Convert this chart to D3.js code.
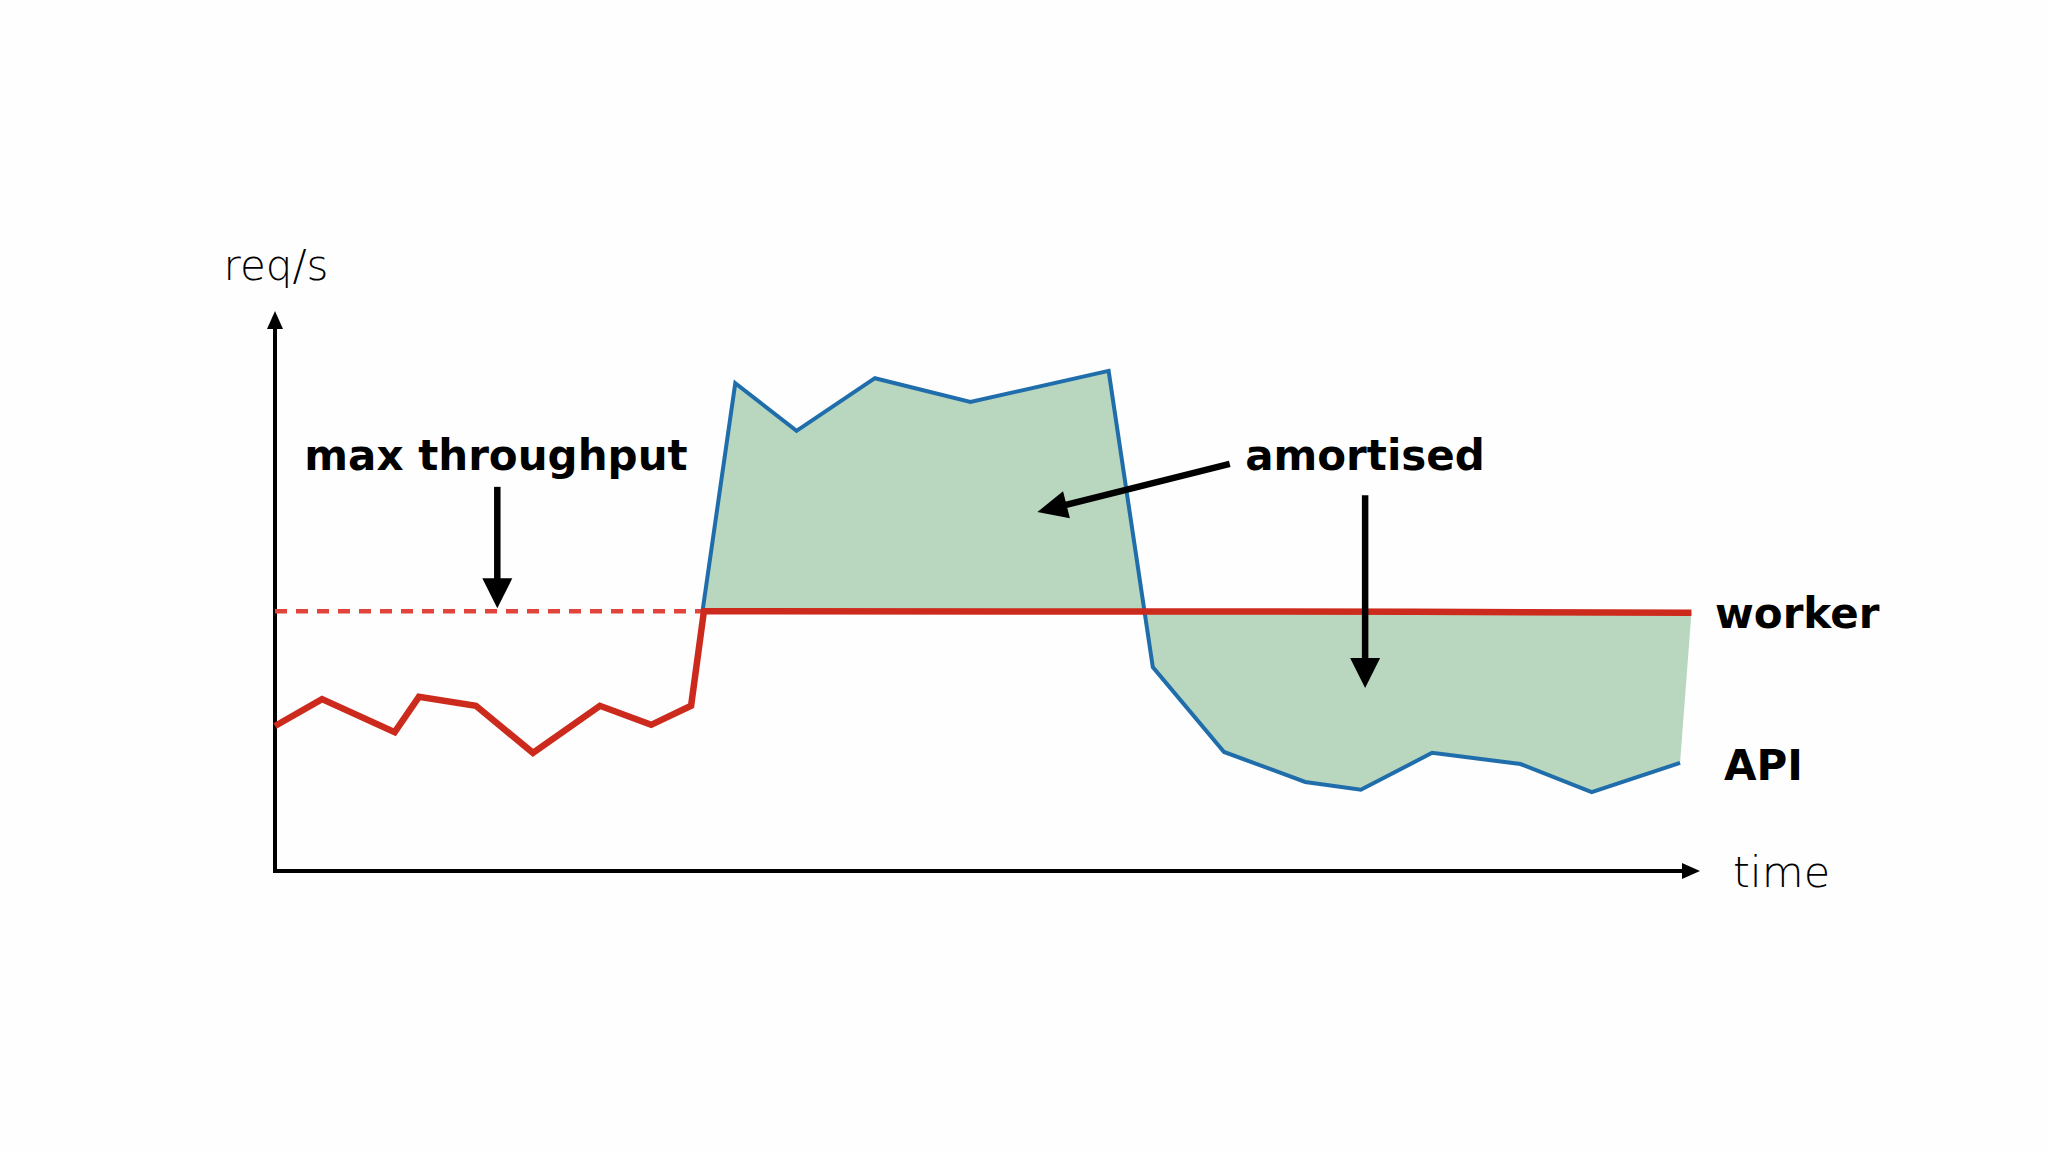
<!DOCTYPE html>
<html>
<head>
<meta charset="utf-8">
<script src="https://cdn.jsdelivr.net/npm/d3@7"></script>
<style>
  body { margin: 0; background: #fefefe; }
  svg { display: block; }
</style>
</head>
<body>
<div id="chart"></div>
<script>
// worker: actual processed req/s (red), flattens at max throughput
var workerTime = [0, 3.3, 8.4, 10.1, 14.1, 18.1, 22.8, 26.4, 29.2, 30.1, 80, 99.4];
var workerRps  = [25.9, 30.7, 24.8, 31.1, 29.5, 21.1, 29.5, 26.1, 29.5, 46.4, 46.3, 46.1];

// API: incoming req/s (blue), only drawn once it exceeds the worker
var apiTime = [30.0, 32.3, 36.6, 42.1, 48.8, 58.5, 61.6, 66.6, 72.3, 76.2, 81.2, 87.4, 92.4, 98.6];
var apiRps  = [46.4, 87.1, 78.6, 88.0, 83.75, 89.3, 36.4, 21.25, 15.9, 14.5, 21.1, 19.1, 14.1, 19.3];

var maxThroughput = 46.4;
var maxThroughputEnd = 30.1;

var width = 2048, height = 1152;

var svg = d3.select("#chart")
  .append("svg")
  .attr("width", width)
  .attr("height", height);

// scales: time 0..100 on x, req/s 0..100 on y
var xScale = d3.scaleLinear().domain([0, 100]).range([275, 1700]);
var yScale = d3.scaleLinear().domain([0, 100]).range([871, 311]);

var worker = workerTime.map(function (t, i) { return [t, workerRps[i]]; });
var api = apiTime.map(function (t, i) { return [t, apiRps[i]]; });

var line = d3.line()
  .x(function (d) { return xScale(d[0]); })
  .y(function (d) { return yScale(d[1]); });

// green area between API and the flat part of the worker line
var flat = worker.filter(function (d) { return d[0] >= maxThroughputEnd; });
var areaPts = api.concat(flat.slice().reverse());
svg.append("path")
  .attr("d", line(areaPts) + "Z")
  .attr("fill", "#b9d6bf");

// draws a line with a filled triangle head at (x2, y2)
function arrow(x1, y1, x2, y2, headLen, headW, sw) {
  var dx = x2 - x1, dy = y2 - y1;
  var len = Math.sqrt(dx * dx + dy * dy);
  var ux = dx / len, uy = dy / len;
  var bx = x2 - ux * headLen, by = y2 - uy * headLen;
  svg.append("line")
    .attr("x1", x1).attr("y1", y1)
    .attr("x2", x2 - ux * headLen * 0.6).attr("y2", y2 - uy * headLen * 0.6)
    .attr("stroke", "#000")
    .attr("stroke-width", sw);
  svg.append("path")
    .attr("d", "M" + x2 + "," + y2 +
      "L" + (bx - uy * headW / 2) + "," + (by + ux * headW / 2) +
      "L" + (bx + uy * headW / 2) + "," + (by - ux * headW / 2) + "Z")
    .attr("fill", "#000");
}

// axes
arrow(xScale(0), yScale(0) + 2, xScale(0), yScale(100), 18, 16, 4);
arrow(xScale(0) - 2, yScale(0), xScale(100), yScale(0), 18, 16, 4);

// dashed max throughput line
svg.append("line")
  .attr("x1", xScale(0)).attr("y1", yScale(maxThroughput))
  .attr("x2", xScale(maxThroughputEnd)).attr("y2", yScale(maxThroughput))
  .attr("stroke", "#e0443a")
  .attr("stroke-width", 4.5)
  .attr("stroke-dasharray", "12,9");

// API line
svg.append("path")
  .attr("d", line(api))
  .attr("fill", "none")
  .attr("stroke", "#1f6eab")
  .attr("stroke-width", 4)
  .attr("stroke-linejoin", "miter");

// worker line
svg.append("path")
  .attr("d", line(worker))
  .attr("fill", "none")
  .attr("stroke", "#cd2a1e")
  .attr("stroke-width", 6.5)
  .attr("stroke-linejoin", "miter");

// annotation arrows
arrow(xScale(15.6), yScale(68.6), xScale(15.6), yScale(46.9), 30, 30, 6.5);
arrow(xScale(67.0), yScale(72.7), xScale(53.5), yScale(64.1), 30, 28, 6.5);
arrow(xScale(76.5), yScale(67.1), xScale(76.5), yScale(32.7), 30, 30, 6.5);

// labels
var boldFont = "'DejaVu Sans', 'Noto Sans', sans-serif";

svg.append("text")
  .attr("x", 496).attr("y", 470)
  .attr("text-anchor", "middle")
  .style("font-family", boldFont).style("font-weight", 700).style("font-size", "42px")
  .text("max throughput");

svg.append("text")
  .attr("x", 1365).attr("y", 470)
  .attr("text-anchor", "middle")
  .style("font-family", boldFont).style("font-weight", 700).style("font-size", "42px")
  .text("amortised");

svg.append("text")
  .attr("x", 1715).attr("y", 628)
  .style("font-family", boldFont).style("font-weight", 700).style("font-size", "42px")
  .text("worker");

svg.append("text")
  .attr("x", 1724).attr("y", 780)
  .style("font-family", boldFont).style("font-weight", 700).style("font-size", "42px")
  .text("API");

svg.append("text")
  .attr("x", 276).attr("y", 280)
  .attr("text-anchor", "middle")
  .style("font-family", boldFont).style("font-weight", 200).style("font-size", "42px")
  .text("req/s");

svg.append("text")
  .attr("x", 1733).attr("y", 887)
  .style("font-family", boldFont).style("font-weight", 200).style("font-size", "43px")
  .text("time");
</script>
</body>
</html>
